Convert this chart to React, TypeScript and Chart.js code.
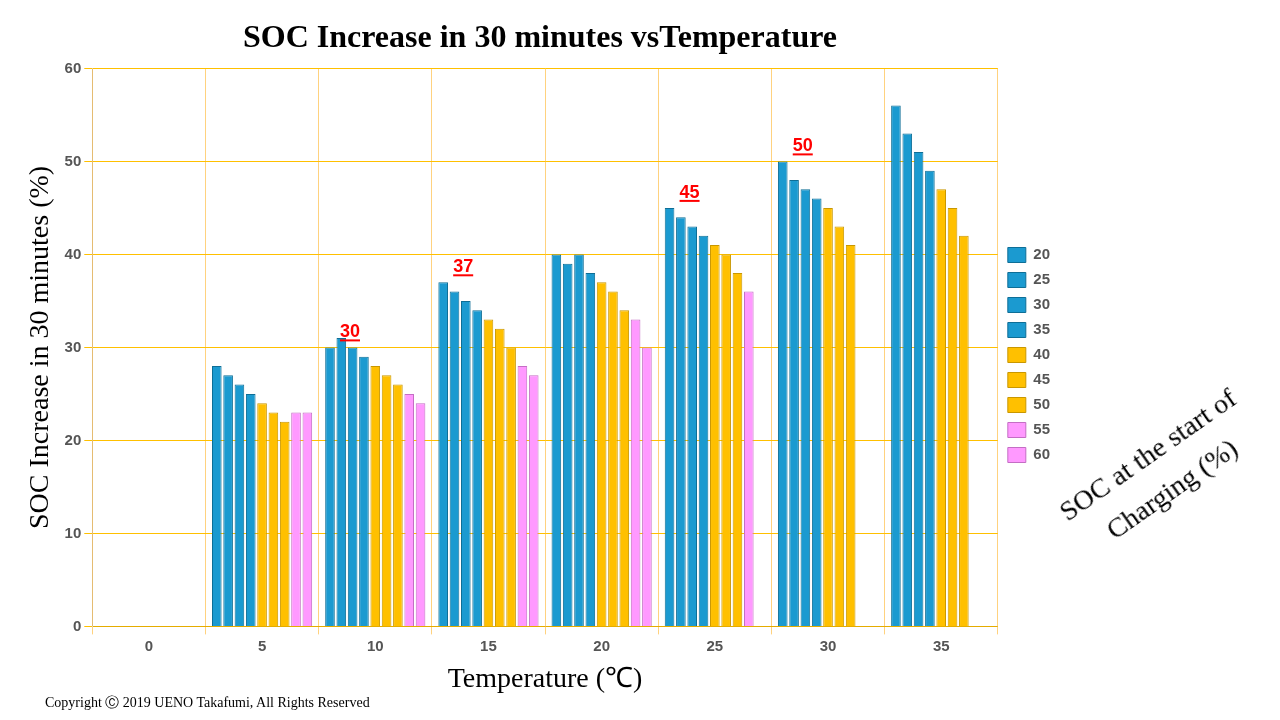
import React, { useEffect, useRef } from "react";
import { Chart, registerables } from "chart.js";
Chart.register(...registerables);

const temperatures = ["0", "5", "10", "15", "20", "25", "30", "35"];
const socStart = ["20", "25", "30", "35", "40", "45", "50", "55", "60"];
const soc20 = [null, 28, 30, 37, 40, 45, 50, 56];
const soc25 = [null, 27, 31, 36, 39, 44, 48, 53];
const soc30 = [null, 26, 30, 35, 40, 43, 47, 51];
const soc35 = [null, 25, 29, 34, 38, 42, 46, 49];
const soc40 = [null, 24, 28, 33, 37, 41, 45, 47];
const soc45 = [null, 23, 27, 32, 36, 40, 43, 45];
const soc50 = [null, 22, 26, 30, 34, 38, 41, 42];
const soc55 = [null, 23, 25, 28, 33, 36, null, null];
const soc60 = [null, 23, 24, 27, 30, null, null, null];
const series = [soc20, soc25, soc30, soc35, soc40, soc45, soc50, soc55, soc60];
const colors = ["#1B9AD0", "#1B9AD0", "#1B9AD0", "#1B9AD0", "#FFC000", "#FFC000", "#FFC000", "#FF99FF", "#FF99FF"];
const borders = ["#0E6E96", "#0E6E96", "#0E6E96", "#0E6E96", "#C99700", "#C99700", "#C99700", "#C46EC4", "#C46EC4"];
const highlighted = [2, 3, 5, 6]; // indexes of temps labelled for SOC 20

export default function App() {
  const ref = useRef<HTMLCanvasElement>(null);
  useEffect(() => {
    const labelPlugin = {
      id: "lbl",
      afterDatasetsDraw(chart: any) {
        const ctx = chart.ctx;
        const meta = chart.getDatasetMeta(0);
        ctx.save();
        ctx.font = "bold 18px 'Liberation Sans', Arial";
        ctx.fillStyle = "#FF0000";
        ctx.strokeStyle = "#FF0000";
        ctx.textAlign = "center";
        highlighted.forEach((i) => {
          const el = meta.data[i];
          if (!el) return;
          const t = String(soc20[i]);
          const y = el.y - 10;
          ctx.fillText(t, el.x + 20, y);
          const w = ctx.measureText(t).width;
          ctx.fillRect(el.x + 20 - w / 2, y + 2, w, 2);
        });
        ctx.restore();
      },
    };
    const chart = new Chart(ref.current!, {
      type: "bar",
      data: {
        labels: temperatures,
        datasets: series.map((d, i) => ({
          label: socStart[i],
          data: d,
          backgroundColor: colors[i],
          borderColor: borders[i],
          borderWidth: 1,
          categoryPercentage: 0.9,
          barPercentage: 0.85,
        })),
      },
      options: {
        animation: false,
        responsive: true,
        maintainAspectRatio: false,
        layout: { padding: { top: 10, right: 10 } },
        plugins: {
          legend: {
            position: "right",
            labels: { font: { size: 15, weight: "bold" }, color: "#555", boxWidth: 18 },
          },
          title: {
            display: true,
            text: "SOC Increase in 30 minutes vsTemperature",
            font: { family: "'Liberation Serif', serif", size: 32 },
            color: "#000",
          },
          tooltip: { enabled: false },
        },
        scales: {
          x: {
            grid: { color: "#FFD27F" },
            ticks: { font: { size: 15, weight: "bold" }, color: "#555" },
            title: { display: true, text: "Temperature (℃)", font: { family: "'Liberation Serif', serif", size: 28 }, color: "#000" },
          },
          y: {
            min: 0,
            max: 60,
            ticks: { stepSize: 10, font: { size: 15, weight: "bold" }, color: "#555" },
            grid: { color: "#FFC000" },
            title: { display: true, text: "SOC Increase in 30 minutes (%)", font: { family: "'Liberation Serif', serif", size: 28 }, color: "#000" },
          },
        },
      },
      plugins: [labelPlugin],
    });
    return () => chart.destroy();
  }, []);
  return (
    <div style={{ position: "fixed", left: 0, top: 0, width: 1280, height: 720, background: "#fff" }}>
      <div style={{ position: "absolute", left: 20, top: 0, width: 1050, height: 700 }}>
        <canvas ref={ref} />
      </div>
      <div style={{ position: "absolute", left: 1040, top: 430, width: 240, fontFamily: "'Liberation Serif', serif", fontSize: 28, transform: "rotate(-35deg)", lineHeight: 1.5, textAlign: "center" }}>
        SOC at the start of Charging (%)
      </div>
      <div style={{ position: "absolute", left: 45, top: 694, fontFamily: "'Liberation Serif', serif", fontSize: 14 }}>
        Copyright Ⓒ 2019 UENO Takafumi, All Rights Reserved
      </div>
    </div>
  );
}
